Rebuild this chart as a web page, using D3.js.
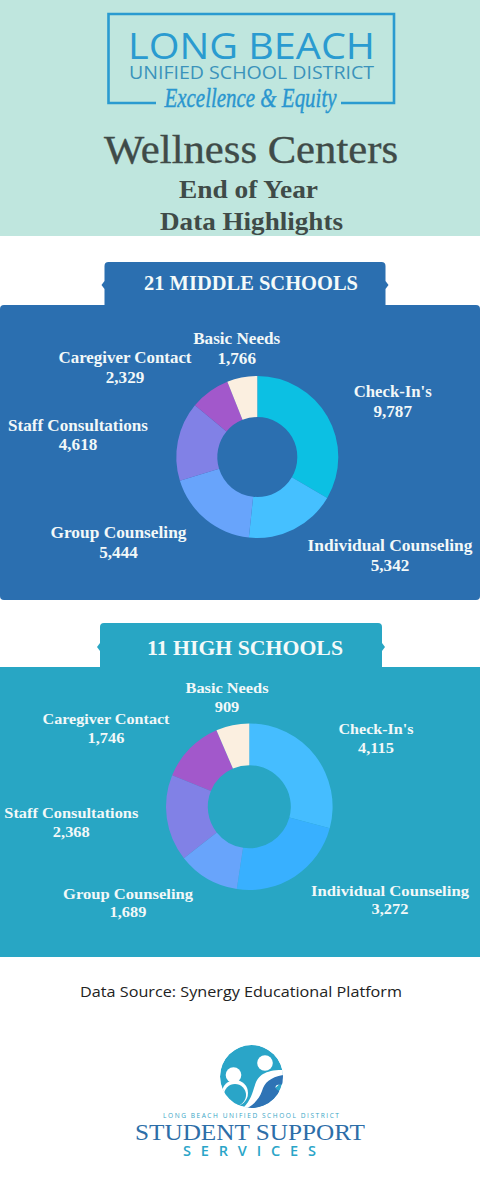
<!DOCTYPE html>
<html><head><meta charset="utf-8">
<script src="https://cdn.jsdelivr.net/npm/d3@7"></script>
<style>html,body{margin:0;padding:0;background:#fff;overflow:hidden}svg{display:block}</style>
</head><body><svg id="c" width="480" height="1200" viewBox="0 0 480 1200"></svg>
<script>
const categories = ["Check-In's","Individual Counseling","Group Counseling","Staff Consultations","Caregiver Contact","Basic Needs"];
const middleValues = [9787,5342,5444,4618,2329,1766];
const highValues = [4115,3272,1689,2368,1746,909];
const middleColors = ["#0cc0e3","#45c0ff","#68a4fb","#8181e6","#a258cb","#fbefe0"];
const highColors = ["#45bdff","#38b0ff","#68a4fb","#8181e6","#a258cb","#fbefe0"];

const SERIF = "'Liberation Serif',serif", SANS = "'Open Sans',sans-serif";
const svg = d3.select("#c"), fmt = d3.format(",");
function txt(s,x,y,size,fill,o={}){
  const t = svg.append("text").text(s).attr("x",x).attr("y",y).attr("text-anchor",o.anchor||"middle")
    .attr("font-family",o.font||SERIF).attr("font-size",size).attr("fill",fill)
    .attr("font-weight",o.weight||"normal");
  if(o.style) t.attr("font-style",o.style);
  if(o.w) t.attr("textLength",o.w).attr("lengthAdjust",o.adjust||"spacingAndGlyphs");
  if(o.sw) t.attr("stroke",fill).attr("stroke-width",o.sw);
  return t;
}
// header
svg.append("rect").attr("width",480).attr("height",236).attr("fill","#bfe6de");
const logo="#2a9bd0";
svg.append("path").attr("d","M156 103H108.5V14H394V103H341").attr("fill","none").attr("stroke",logo).attr("stroke-width",2.6);
txt("LONG BEACH",251.5,59,37,logo,{font:SANS,w:247});
txt("UNIFIED SCHOOL DISTRICT",251.5,79,17.5,"#3a93bb",{font:SANS,w:245});
txt("Excellence & Equity",250.5,107,28,"#2a96cf",{style:"italic",w:172,sw:.45});
txt("Wellness Centers",251,163,39,"#3f4b48",{w:294,sw:.35});
txt("End of Year",248.5,198,25,"#3f4b48",{weight:"bold",w:139});
txt("Data Highlights",251.5,230,25,"#3f4b48",{weight:"bold",w:183});

function tab(x0,x1,y0,y1,ny,color){
  svg.append("path").attr("fill",color).attr("d",
   `M${x0} ${y1}V${ny+4}L${x0-3} ${ny}L${x0} ${ny-4}V${y0+4}Q${x0} ${y0} ${x0+4} ${y0}H${x1-4}Q${x1} ${y0} ${x1} ${y0+4}V${ny-4}L${x1+3} ${ny}L${x1} ${ny+4}V${y1}Z`);
}
function section(o){
  tab(o.tab[0],o.tab[1],o.tab[2],o.top+1,o.tab[3],o.color);
  svg.append("rect").attr("x",0).attr("y",o.top).attr("width",480).attr("height",o.bottom-o.top).attr("rx",o.rx).attr("fill",o.color);
  txt(o.title,o.titleX,o.titleY,o.titleSize,"#f4faf9",{weight:"bold",w:o.titleW});
  const pie = d3.pie().sort(null)(o.values);
  const arc = d3.arc().innerRadius(o.r0).outerRadius(o.r1);
  svg.append("g").attr("transform",`translate(${o.cx},${o.cy})`).selectAll("path").data(pie).join("path")
    .attr("d",arc).attr("fill",(d,i)=>o.colors[i]);
  categories.forEach((c,i)=>{
    const [x,y,yv,w]=o.labels[i];
    txt(c,x,y,o.size,"#f2f8f8",{weight:"bold",w});
    const val = txt(fmt(o.values[i]),x,yv,o.size,"#f2f8f8",{weight:"bold"});
    val.attr("textLength",val.node().getComputedTextLength()*1.07).attr("lengthAdjust","spacingAndGlyphs");
  });
}
section({title:"21 MIDDLE SCHOOLS",titleX:251,titleY:290,titleSize:20.5,titleW:214,color:"#2b6fb0",rx:4,
  tab:[104.5,385.5,262,285],top:305,bottom:600,values:middleValues,colors:middleColors,cx:257.3,cy:457,r0:40,r1:81,size:16,
  labels:[[392.7,397,417,78],[390,551,570.7,165],[118.5,538,557.7,136],[78,430.7,450,140],[125,363,383,133],[236.7,343.7,363.7,87]]});
section({title:"11 HIGH SCHOOLS",titleX:245,titleY:655,titleSize:20.5,titleW:196,color:"#28a6c4",rx:0,
  tab:[100,382,623,647],top:667,bottom:957,values:highValues,colors:highColors,cx:249.3,cy:806.7,r0:41.5,r1:83.3,size:15.3,
  labels:[[376,734,753,75],[390,896,914,158],[128,899,917,130],[71.3,817.7,836.7,134],[106,724,743,127],[227,693,711.7,83]]});
// footer
txt("Data Source: Synergy Educational Platform",241,997,14.5,"#222",{font:SANS,w:322});
const clip = svg.append("clipPath").attr("id","logoClip");
clip.append("circle").attr("cx",251.5).attr("cy",1076.5).attr("r",31.5);
const lg = svg.append("g").attr("clip-path","url(#logoClip)");
lg.append("circle").attr("cx",251.5).attr("cy",1076.5).attr("r",31.5).attr("fill","#2aa5c8");
lg.append("circle").attr("cx",235).attr("cy",1093).attr("r",13).attr("fill","#fff");
lg.append("circle").attr("cx",235).attr("cy",1095).attr("r",11).attr("fill","#2aa5c8");
lg.append("circle").attr("cx",233.5).attr("cy",1075).attr("r",7.8).attr("fill","#fff");
lg.append("circle").attr("cx",265).attr("cy",1063).attr("r",7.8).attr("fill","#fff");
lg.append("path").attr("fill","#fff").attr("d","M238 1112C250 1104 252 1094 255 1085C258 1075 266 1069 286 1070V1078L250 1112Z");
lg.append("path").attr("fill","#2e73b5").attr("d","M290 1074C272 1076 265 1081 262 1091C259 1100 252 1106 244 1110H280V1091C276 1090 274 1087 277 1085L290 1083Z");
txt("LONG BEACH UNIFIED SCHOOL DISTRICT",251,1118,6.6,"#3aa6c6",{font:SANS,w:176,adjust:"spacing"});
txt("STUDENT SUPPORT",250,1140,24,"#2d6ea8",{w:230});
txt("SERVICES",249.5,1156,14.5,"#2aa5c8",{font:SANS,w:133,weight:"600",adjust:"spacing"});
</script></body></html>
